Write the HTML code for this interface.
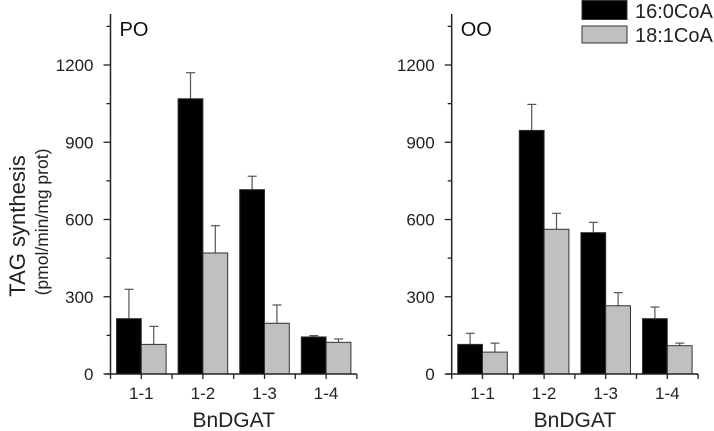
<!DOCTYPE html>
<html><head><meta charset="utf-8"><style>
html,body{margin:0;padding:0;background:#fff;}
svg{display:block;font-family:"Liberation Sans",Arial,sans-serif;}
</style></head><body>
<svg id="chart" width="714" height="431" viewBox="0 0 714 431">
<g id="root"></g>
</svg>
<script>
const categories = ["1-1","1-2","1-3","1-4"];
const panelNames = ["PO","OO"];
const poPalmitoyl = [215,1069,716,144];
const poPalmitoylErr = [114,101,52,5];
const poOleoyl = [115,470,197,123];
const poOleoylErr = [70,106,71,13];
const ooPalmitoyl = [115,946,549,215];
const ooPalmitoylErr = [43,101,40,45];
const ooOleoyl = [85,562,265,110];
const ooOleoylErr = [35,62,51,10];
const yTicks = [0,300,600,900,1200];
const yMinorTicks = [150,450,750,1050,1350];
const seriesNames = ["16:0CoA","18:1CoA"];

const NS="http://www.w3.org/2000/svg";
const root=document.getElementById('root');
function mk(tag,attrs,parent,text){const e=document.createElementNS(NS,tag);for(const k in attrs)e.setAttribute(k,attrs[k]);if(text!==undefined)e.textContent=text;(parent||root).appendChild(e);return e;}
const baseY=374, pxPer=77.25/300, topY=14, spacing=61.6;
function y(v){return baseY-v*pxPer;}

const panels=[
 {x0:110.5,name:panelNames[0],s:[[poPalmitoyl,poPalmitoylErr],[poOleoyl,poOleoylErr]]},
 {x0:451.7,name:panelNames[1],s:[[ooPalmitoyl,ooPalmitoylErr],[ooOleoyl,ooOleoylErr]]}
];
const fills=["#000","#c0c0c0"];
panels.forEach((p,pi)=>{
 const g=mk('g',{});
 
 
 const xc=i=>p.x0+spacing*(i+0.5);
 categories.forEach((c,i)=>{
  p.s.forEach((ser,si)=>{
   const v=ser[0][i], e=ser[1][i];
   const bx=si===0?xc(i)-24.8:xc(i);
   const eb=mk('line',{x1:bx+12.4,x2:bx+12.4,y1:y(v),y2:y(v+e),stroke:'#555','stroke-width':1.2},g);
   
   
   const ec=mk('line',{x1:bx+8,x2:bx+17,y1:y(v+e),y2:y(v+e),stroke:'#555','stroke-width':1.2},g);
   
   
   const r=mk('rect',{x:bx,y:y(v),width:24.8,height:baseY-y(v),fill:fills[si],stroke:'#333','stroke-width':1},g);
   
   
  });
  const t=mk('text',{x:xc(i),y:baseY+25,'text-anchor':'middle','font-size':17,fill:'#222'},g,c);
  
  
  mk('line',{x1:xc(i),x2:xc(i),y1:baseY,y2:baseY+5,stroke:'#222','stroke-width':1.3},g);
 });
 for(let i=0;i<=4;i++){mk('line',{x1:p.x0+spacing*i,x2:p.x0+spacing*i,y1:baseY,y2:baseY+5,stroke:'#222','stroke-width':1.3},g);}
 const ya=mk('line',{x1:p.x0,x2:p.x0,y1:topY,y2:baseY+1,stroke:'#222','stroke-width':1.5},g);
 
 
 const xa=mk('line',{x1:p.x0-5,x2:p.x0+spacing*4,y1:baseY,y2:baseY,stroke:'#222','stroke-width':1.5},g);
 
 
 yTicks.forEach(v=>{
  mk('line',{x1:p.x0-7,x2:p.x0,y1:y(v),y2:y(v),stroke:'#222','stroke-width':1.3},g);
  const t=mk('text',{x:p.x0-17,y:y(v)+6,'text-anchor':'end','font-size':17,fill:'#222'},g,String(v));
  
  
 });
 yMinorTicks.forEach(v=>{mk('line',{x1:p.x0-4,x2:p.x0,y1:y(v),y2:y(v),stroke:'#222','stroke-width':1.3},g);});
 const pl=mk('text',{x:p.x0+9,y:36,'font-size':20,fill:'#111'},g,p.name);
 
 
 const xt=mk('text',{x:p.x0+spacing*2,y:baseY+53,'text-anchor':'middle','font-size':21,fill:'#222'},g,'BnDGAT');
 
 
});
const yt=mk('text',{x:0,y:0,'text-anchor':'middle','font-size':22,fill:'#222',transform:'translate(25,226) rotate(-90)'},root,'TAG synthesis');


const yt2=mk('text',{x:0,y:0,'text-anchor':'middle','font-size':17.5,fill:'#222',transform:'translate(48,222) rotate(-90)'},root,'(pmol/min/mg prot)');


seriesNames.forEach((n,i)=>{
 const lg=mk('g',{});
 
 
 mk('rect',{x:582,y:i?26:0.5,width:45,height:i?17:19,fill:fills[i],stroke:'#333','stroke-width':1},lg);
 mk('text',{x:635,y:i?42:18,'font-size':20,fill:'#222'},lg,n);
});
</script>
</body></html>
